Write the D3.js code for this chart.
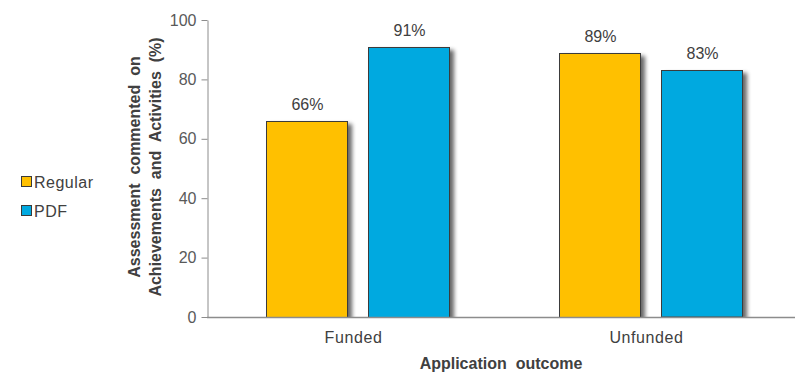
<!DOCTYPE html>
<html>
<head>
<meta charset="utf-8">
<script src="https://cdn.jsdelivr.net/npm/d3@7"></script>
<style>
  html, body { margin: 0; padding: 0; background: #fff; }
  svg { display: block; font-family: "Liberation Sans", Arial, sans-serif; }
</style>
</head>
<body>
<svg id="chart" width="811" height="380"></svg>
<script>
const categories = ["Funded", "Unfunded"];
const seriesNames = ["Regular", "PDF"];
const regularValues = [66, 89];
const pdfValues = [91, 83];
const yTicks = [0, 20, 40, 60, 80, 100];
const colors = ["#FFC000", "#00A9E0"];

(function () {
const svg = d3.select("#chart");
const plotLeft = 207, plotRight = 793, axisEnd = 795, plotTop = 20, plotBottom = 317;
const FONT = "Liberation Sans, Arial, sans-serif";

const defs = svg.append("defs");
const f = defs.append("filter").attr("id", "shadow")
  .attr("x", "-10%").attr("y", "-10%").attr("width", "130%").attr("height", "120%");
f.append("feGaussianBlur").attr("in", "SourceAlpha").attr("stdDeviation", 2).attr("result", "b");
f.append("feOffset").attr("in", "b").attr("dx", 4).attr("dy", 3).attr("result", "o");
f.append("feComponentTransfer").attr("in", "o").attr("result", "o2")
  .append("feFuncA").attr("type", "linear").attr("slope", 0.6);
const m = f.append("feMerge");
m.append("feMergeNode").attr("in", "o2");
m.append("feMergeNode").attr("in", "SourceGraphic");

const clip = defs.append("clipPath").attr("id", "plotclip");
clip.append("rect").attr("x", 0).attr("y", 0).attr("width", 811).attr("height", plotBottom);

const x0 = d3.scaleBand().domain(categories).range([plotLeft, plotRight]);
const x1 = d3.scaleBand().domain(seriesNames).range([59, 242]).paddingInner(0.206);
const y = d3.scaleLinear().domain([0, 100]).range([plotBottom, plotTop]);

const data = categories.map((c, i) => ({
  cat: c,
  vals: [{s: "Regular", v: regularValues[i]}, {s: "PDF", v: pdfValues[i]}]
}));

// bars
const g = svg.append("g").attr("clip-path", "url(#plotclip)");
data.forEach(d => {
  d.vals.forEach((b, j) => {
    g.append("rect")
      .attr("x", Math.round(x0(d.cat) + x1(b.s)) + 0.5)
      .attr("y", Math.round(y(b.v)) + 0.5)
      .attr("width", Math.round(x1.bandwidth()))
      .attr("height", plotBottom - y(b.v))
      .attr("fill", colors[j])
      .attr("stroke", "#3a3a3a")
      .attr("stroke-width", 1)
      .attr("filter", "url(#shadow)");
  });
});

// data labels
data.forEach(d => {
  d.vals.forEach(b => {
    svg.append("text")
      .attr("x", x0(d.cat) + x1(b.s) + x1.bandwidth() / 2 + 1)
      .attr("y", y(b.v) - 11)
      .attr("text-anchor", "middle")
      .attr("font-size", 16)
      .attr("font-family", FONT)
      .attr("fill", "#404040")
      .text(b.v + "%");
  });
});

// y axis
const yAxis = d3.axisLeft(y).tickValues(yTicks).tickSize(6).tickSizeOuter(0).tickPadding(5);
const ya = svg.append("g").attr("transform", `translate(${plotLeft + 0.5},0)`).call(yAxis);
ya.select(".domain").attr("stroke", "#8c8c8c");
ya.selectAll(".tick line").attr("stroke", "#8c8c8c");
ya.selectAll(".tick text").attr("font-size", 16).attr("fill", "#595959")
  .attr("font-family", FONT);

// x axis
const xAxis = d3.axisBottom(x0).tickSize(0).tickSizeOuter(0).tickPadding(14);
const xa = svg.append("g").attr("transform", `translate(0,${plotBottom + 0.5})`).call(xAxis);
xa.select(".domain").attr("stroke", "#8c8c8c").attr("stroke-width", 1.5)
  .attr("d", `M${plotLeft},0H${axisEnd}`);
xa.selectAll(".tick text").attr("font-size", 16).attr("fill", "#404040")
  .attr("letter-spacing", "0.6px")
  .attr("font-family", FONT);

// axis titles
svg.append("text")
  .attr("x", (plotLeft + axisEnd) / 2)
  .attr("y", 369)
  .attr("text-anchor", "middle")
  .attr("font-size", 16).attr("font-weight", "bold").attr("fill", "#404040")
  .attr("font-family", FONT)
  .attr("word-spacing", "4.5px")
  .text("Application outcome");

const yt = svg.append("text")
  .attr("transform", "translate(0,167) rotate(-90)")
  .attr("text-anchor", "middle")
  .attr("font-size", 16).attr("font-weight", "bold").attr("fill", "#404040")
  .attr("font-family", FONT)
  .attr("word-spacing", "4.5px");
yt.append("tspan").attr("x", 0).attr("y", 140).text("Assessment commented on");
yt.append("tspan").attr("x", 0).attr("y", 161).text("Achievements and Activities (%)");

// legend
seriesNames.forEach((s, i) => {
  const ly = 176 + i * 29;
  svg.append("rect").attr("x", 21.5).attr("y", ly + 0.5).attr("width", 10).attr("height", 10)
    .attr("fill", colors[i]).attr("stroke", "#3a3a3a").attr("stroke-width", 1);
  svg.append("text").attr("x", 34).attr("y", ly + 12)
    .attr("font-size", 16).attr("letter-spacing", "0.5px").attr("font-family", FONT)
    .attr("fill", "#404040").text(s);
});
})();
</script>
</body>
</html>
